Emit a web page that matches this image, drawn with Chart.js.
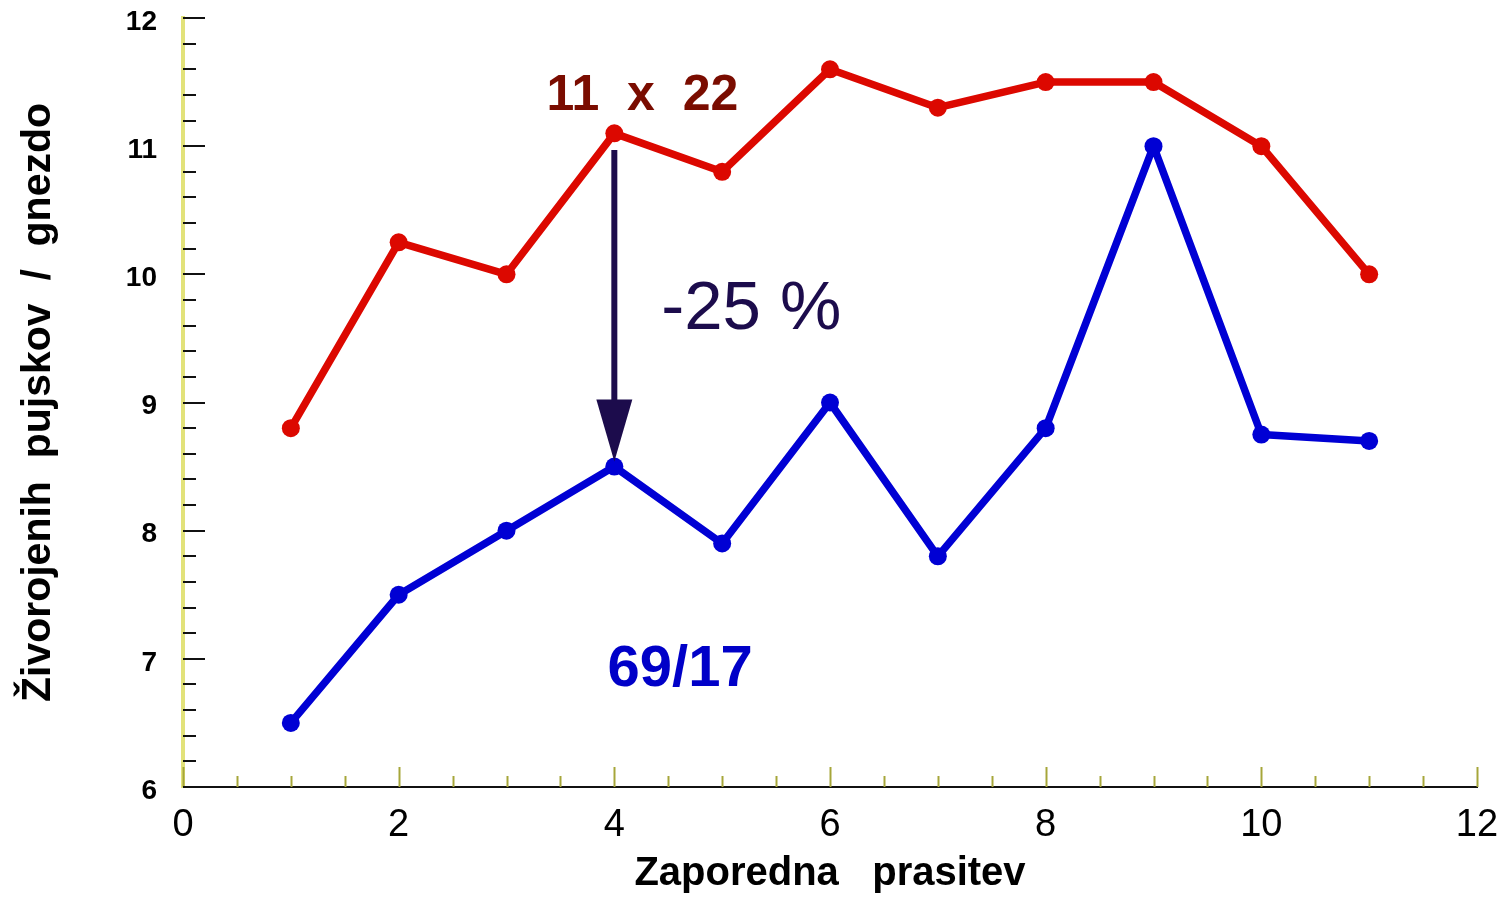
<!DOCTYPE html>
<html>
<head>
<meta charset="utf-8">
<script src="https://cdn.jsdelivr.net/npm/chart.js@4"></script>
<style>
  body { margin: 0; background: #fff; }
  #wrap { width: 1505px; height: 899px; position: relative; }
</style>
</head>
<body>
<div id="wrap"><canvas id="myChart"></canvas></div>
<script>
// zaporedna prasitev (1..11)
var prasitve = [1, 2, 3, 4, 5, 6, 7, 8, 9, 10, 11];
// 11 x 22 - rdeca
var red_values = [8.8, 10.25, 10.0, 11.1, 10.8, 11.6, 11.3, 11.5, 11.5, 11.0, 10.0];
// 69/17 - modra
var blue_values = [6.5, 7.5, 8.0, 8.5, 7.9, 9.0, 7.8, 8.8, 11.0, 8.75, 8.7];

var x_title = 'Zaporedna   prasitev';
var y_title = 'Živorojenih  pujskov  /  gnezdo';

// napisi na grafu: [besedilo, x, y, barva, font]
var labels_on_chart = [
  ['11  x  22', 4.26, 11.39, '#7a0c00', 'bold 50px "Liberation Sans", Arial, sans-serif'],
  ['-25 %', 5.27, 9.72, '#1c0c4c', '69px "Liberation Sans", Arial, sans-serif'],
  ['69/17', 4.61, 6.91, '#0000c8', 'bold 58px "Liberation Sans", Arial, sans-serif']
];
// puscica od rdece do modre tocke pri 4. prasitvi
var arrow = [4, 10.97, 8.54];

var FONT = '"Liberation Sans", Arial, sans-serif';

function toPoints(vals) {
  return vals.map(function (v, i) { return { x: prasitve[i], y: v }; });
}

function isMajor(v, step) {
  var r = v / step;
  return Math.abs(r - Math.round(r)) < 1e-6;
}

var extras = {
  id: 'extras',
  beforeDatasetsDraw: function (chart) {
    var c = chart.ctx, xs = chart.scales.x, ys = chart.scales.y;
    c.save();
    // x crtice (navzgor)
    c.strokeStyle = '#a6a63a';
    c.lineWidth = 2;
    xs.ticks.forEach(function (t) {
      var px = Math.round(xs.getPixelForValue(t.value)) + 0.5;
      var len = isMajor(t.value, 2) ? 20 : 11;
      c.beginPath();
      c.moveTo(px, xs.top);
      c.lineTo(px, xs.top - len);
      c.stroke();
    });
    // y crtice (v desno)
    c.strokeStyle = '#111';
    ys.ticks.forEach(function (t) {
      var py = Math.round(ys.getPixelForValue(t.value));
      var len = isMajor(t.value, 1) ? 22 : 13;
      c.beginPath();
      c.moveTo(ys.right, py);
      c.lineTo(ys.right + len, py);
      c.stroke();
    });
    c.restore();
  },
  afterDatasetsDraw: function (chart) {
    var c = chart.ctx, xs = chart.scales.x, ys = chart.scales.y;
    c.save();
    // puscica
    var ax = xs.getPixelForValue(arrow[0]);
    var ay1 = ys.getPixelForValue(arrow[1]);
    var ay2 = ys.getPixelForValue(arrow[2]);
    c.strokeStyle = '#1c0c4c';
    c.fillStyle = '#1c0c4c';
    c.lineWidth = 6;
    c.beginPath();
    c.moveTo(ax, ay1);
    c.lineTo(ax, ay2 - 55);
    c.stroke();
    c.beginPath();
    c.moveTo(ax - 18, ay2 - 62);
    c.lineTo(ax + 18, ay2 - 62);
    c.lineTo(ax, ay2);
    c.closePath();
    c.fill();
    // napisi
    c.textAlign = 'center';
    c.textBaseline = 'middle';
    labels_on_chart.forEach(function (l) {
      c.font = l[4];
      c.fillStyle = l[3];
      c.fillText(l[0], xs.getPixelForValue(l[1]), ys.getPixelForValue(l[2]));
    });
    c.restore();
  }
};

var ctx = document.getElementById('myChart');
var myChart = new Chart(ctx, {
  type: 'line',
  data: {
    datasets: [
      {
        label: '11 x 22',
        data: toPoints(red_values),
        borderColor: '#dc0800',
        backgroundColor: '#dc0800',
        borderWidth: 7.5,
        borderJoinStyle: 'round',
        pointRadius: 9,
        pointBorderWidth: 0,
        tension: 0
      },
      {
        label: '69/17',
        data: toPoints(blue_values),
        borderColor: '#0000d4',
        backgroundColor: '#0000d4',
        borderWidth: 7.5,
        borderJoinStyle: 'round',
        pointRadius: 9,
        pointBorderWidth: 0,
        tension: 0
      }
    ]
  },
  options: {
    responsive: true,
    maintainAspectRatio: false,
    animation: false,
    layout: { padding: { top: 18, right: 28, bottom: 0, left: 0 } },
    plugins: {
      legend: { display: false },
      tooltip: { enabled: false }
    },
    scales: {
      x: {
        type: 'linear',
        min: 0,
        max: 12,
        afterFit: function (s) { s.height = 112; s.paddingLeft = 0; s.paddingRight = 0; },
        grid: { display: false, drawTicks: false },
        border: { display: true, color: '#111', width: 2 },
        ticks: {
          stepSize: 0.5,
          autoSkip: false,
          maxRotation: 0,
          padding: 16,
          color: '#000',
          font: { family: FONT, size: 38 },
          callback: function (v) { return isMajor(v, 2) ? String(Math.round(v)) : ''; }
        },
        title: {
          display: true,
          text: x_title,
          color: '#000',
          font: { family: FONT, size: 40, weight: 'bold' },
          padding: { top: 0, bottom: 1 }
        }
      },
      y: {
        type: 'linear',
        min: 6,
        max: 12,
        afterFit: function (s) { s.width = 183; s.paddingTop = 0; s.paddingBottom = 0; },
        grid: { display: false, drawTicks: false },
        border: { display: true, color: '#e2e27a', width: 4 },
        ticks: {
          stepSize: 0.2,
          autoSkip: false,
          padding: 26,
          labelOffset: 4,
          color: '#000',
          font: { family: FONT, size: 28, weight: 'bold' },
          callback: function (v) { return isMajor(v, 1) ? String(Math.round(v)) : ''; }
        },
        title: {
          display: true,
          text: y_title,
          color: '#000',
          font: { family: FONT, size: 41, weight: 'bold' },
          padding: { top: 14, bottom: 0 }
        }
      }
    }
  },
  plugins: [extras]
});
</script>
</body>
</html>
